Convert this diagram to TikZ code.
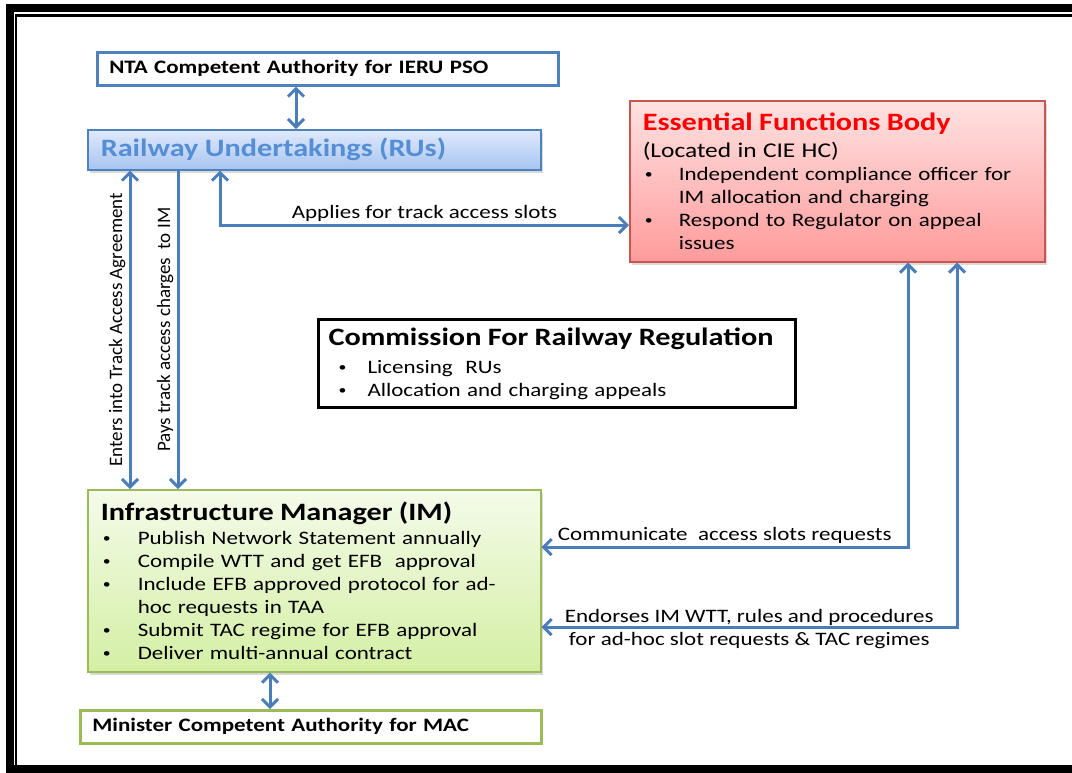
\documentclass[tikz,border=0pt]{standalone}
\usepackage{fontspec}
\setmainfont{Carlito}[FakeStretch=1.21]
\newfontfamily\sidefont{Carlito}
\usetikzlibrary{arrows.meta,shadows}

\definecolor{boxblue}{RGB}{79,129,189}
\definecolor{linkblue}{RGB}{74,126,187}
\definecolor{rutext}{RGB}{85,142,213}
\definecolor{rutop}{RGB}{224,234,251}
\definecolor{rubot}{RGB}{166,196,240}
\definecolor{efbtop}{RGB}{255,226,226}
\definecolor{efbbot}{RGB}{255,155,155}
\definecolor{efbline}{RGB}{200,85,80}
\definecolor{efbred}{RGB}{255,0,0}
\definecolor{imtop}{RGB}{244,251,234}
\definecolor{imbot}{RGB}{212,239,164}
\definecolor{imline}{RGB}{155,187,89}

\newcommand{\bul}[1][36pt]{\makebox[#1][l]{\hspace{2pt}\raisebox{1.5pt}{\fontsize{13}{13}\selectfont\textbullet}}}

\tikzset{
  box/.style={anchor=north west, align=left, inner ysep=0pt},
  authbox/.style={box, line width=2.5pt, fill=white, font=\fontsize{19}{21}\selectfont\bfseries},
  boxshadow/.style={drop shadow={shadow xshift=2pt, shadow yshift=-3pt, opacity=0.3}},
  link/.style={draw=linkblue, line width=3pt},
  sidelabel/.style={midway, rotate=90, anchor=south, inner sep=3pt, font=\sidefont\fontsize{19}{23}\selectfont},
  >={Straight Barb[length=8pt,width=16pt]}
}

\begin{document}
\begin{tikzpicture}[x=1pt, y=-1pt, font=\fontsize{19}{23}\selectfont]
    \useasboundingbox (0,0) rectangle (1072,772);
    \draw[line width=8pt] (1090,8) -- (10,8) -- (10,769) -- (1090,769);
    \draw[line width=2.2pt] (1090,15.5) -- (16,15.5) -- (16,766);

    \node (nta) [authbox, draw=boxblue, text width=437pt, inner xsep=12pt, minimum height=33pt] at (96,51) {NTA Competent Authority for IERU PSO};
    \node (ru) [box, draw=boxblue, line width=1.5pt, top color=rutop, bottom color=rubot, boxshadow, text width=427pt, inner xsep=13pt, minimum height=40pt] at (87,129) {\fontsize{25}{28}\selectfont\bfseries\color{rutext}Railway Undertakings (RUs)};
    \node (efb) [box, draw=efbline, line width=1.5pt, top color=efbtop, bottom color=efbbot, boxshadow, text width=389pt, inner xsep=13pt, minimum height=161pt] at (629,100) {{\fontsize{25}{27}\selectfont\bfseries\color{efbred}Essential Functions Body}\\[4pt]
        {\fontsize{21}{23}\selectfont(Located in CIE HC)}\\
        \bul Independent compliance officer for\\
        \hspace*{36pt}IM allocation and charging\\
        \bul Respond to Regulator on appeal\\
        \hspace*{36pt}issues};
    \node (crr) [box, draw=black, line width=3pt, fill=white, text width=457pt, inner xsep=10pt, minimum height=88pt] at (317,318) {{\fontsize{25}{27}\selectfont\bfseries Commission For Railway Regulation}\\[5pt]
        \hspace*{8pt}\bul[31pt]Licensing\ \ RUs\\
        \hspace*{8pt}\bul[31pt]Allocation and charging appeals};
    \node (im) [box, draw=imline, line width=1.5pt, top color=imtop, bottom color=imbot, boxshadow, text width=427pt, inner xsep=13pt, minimum height=182pt] at (87,489) {{\fontsize{25}{28}\selectfont\bfseries Infrastructure Manager (IM)}\\[1pt]
        \bul[37pt]Publish Network Statement annually\\
        \bul[37pt]Compile WTT and get EFB\ \ approval\\
        \bul[37pt]Include EFB approved protocol for ad-\\
        \hspace*{37pt}hoc requests in TAA\\
        \bul[37pt]Submit TAC regime for EFB approval\\
        \bul[37pt]Deliver multi-annual contract};
    \node (mac) [authbox, draw=imline, text width=437pt, inner xsep=12pt, minimum height=33pt] at (79,709) {Minister Competent Authority for MAC};

    \coordinate (slotbend) at (220,225);
    \coordinate (reqbend) at (908,547);
    \coordinate (wttbend) at (957,627);

    \draw[link,<->] ([xshift=200pt]nta.south west) -- ([xshift=209pt]ru.north west);
    \draw[link,<->] ([xshift=43pt]im.north west) -- node[sidelabel] {Enters into Track Access Agreement} ([xshift=43pt]ru.south west);
    \draw[link,->] ([xshift=91pt]ru.south west) -- node[sidelabel] {Pays track access charges\ \ to IM} ([xshift=91pt]im.north west);
    \draw[link,<->] (ru.south -| slotbend) -- (slotbend) -- node[midway, above, inner sep=2pt] {Applies for track access slots} (efb.west |- slotbend);
    \draw[link,<->] (efb.south -| reqbend) -- (reqbend) -- node[midway, above, inner sep=2pt] {Communicate\ \ access slots requests} (im.east |- reqbend);
    \draw[link,<->] (efb.south -| wttbend) -- (wttbend) -- node[midway, align=center, inner sep=0pt, yshift=-2pt] {Endorses IM WTT, rules and procedures\\ for ad-hoc slot requests \& TAC regimes} (im.east |- wttbend);
    \draw[link,<->] ([xshift=183pt]im.south west) -- ([xshift=191pt]mac.north west);
\end{tikzpicture}
\end{document}
